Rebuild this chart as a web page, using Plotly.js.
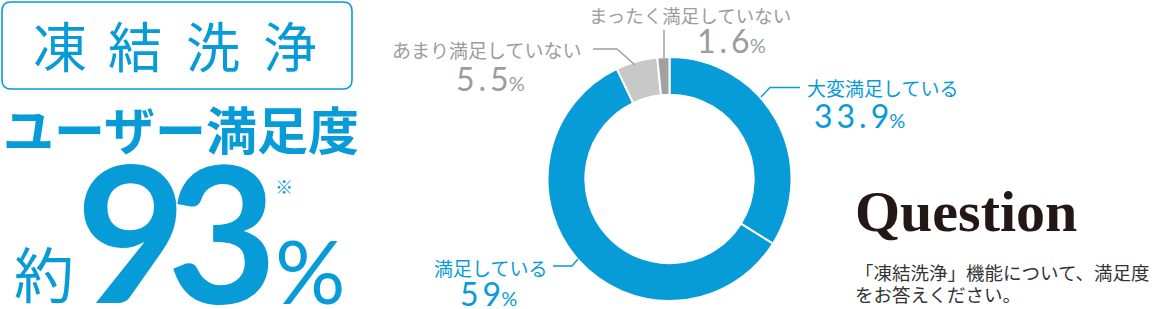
<!DOCTYPE html>
<html><head><meta charset="utf-8">
<script src="https://cdn.plot.ly/plotly-3.0.1.min.js"></script>
<style>html,body{margin:0;padding:0;background:#fff}#chart{width:1155px;height:309px}</style>
</head><body><div id="chart"></div>
<script>
// ---- data ----
const categories = ['大変満足している', '満足している', 'あまり満足していない', 'まったく満足していない'];
const values = [33.9, 59, 5.5, 1.6];
const valueLabels = ['33.9', '59', '5.5', '1.6'];
const headline = ['凍', '結', '洗', '浄'];
const subtitle = 'ユーザー満足度';
const bigNumber = ['9', '3'];
const question = 'Question';
const questionText = ['「凍結洗浄」機能について、満足度', 'をお答えください。'];

// ---- helpers ----
const W = 1155, H = 309;
const px = x => x / W, py = y => 1 - y / H;
const BLUE = '#079bd8', GRAY = '#9c9c9c';
const JP = '"Noto Sans CJK JP", "Noto Sans", sans-serif';
const NUM = 'Lato, "Noto Sans", sans-serif';

function sp(s) { return s.split('').join('\u2009'); }
function pct(v, size) {
  return sp(v) + '<span style="font-size:' + Math.round(size * 0.62) + 'px">%</span>';
}

const annotations = [];
function ann(text, x, y, opts) {
  annotations.push(Object.assign({
    text: text, x: px(x), y: py(y), xref: 'paper', yref: 'paper',
    showarrow: false, xanchor: 'center', yanchor: 'middle',
    font: { family: JP, size: 19, color: BLUE }
  }, opts || {}));
}

// headline characters
const hx = [60, 135, 213, 290];
headline.forEach((c, i) => ann(c, hx[i], 45, { font: { family: JP, size: 54, color: BLUE } }));
ann('<b>' + subtitle + '</b>', 181, 128, { font: { family: JP, size: 51, color: BLUE } });
ann('約', 44, 271, { font: { family: JP, size: 60, color: BLUE } });
ann('<b>' + bigNumber[0] + '</b>', 131, 229, { font: { family: NUM, size: 190, color: BLUE } });
ann('<b>' + bigNumber[1] + '</b>', 222, 229, { font: { family: NUM, size: 190, color: BLUE } });
ann('%', 310, 270, { font: { family: NUM, size: 88, color: BLUE } });
ann('※', 284, 186, { font: { family: JP, size: 18, color: BLUE } });

// slice labels
ann(categories[0], 805, 87, { xanchor: 'left', font: { family: JP, size: 19, color: BLUE } });
ann(pct(valueLabels[0], 32), 859, 115, { font: { family: NUM, size: 32, color: BLUE } });
ann(categories[1], 549, 267, { xanchor: 'right', font: { family: JP, size: 19, color: BLUE } });
ann(pct(valueLabels[1], 32), 489, 293, { font: { family: NUM, size: 32, color: BLUE } });
ann(categories[2], 583, 49, { xanchor: 'right', font: { family: JP, size: 19, color: GRAY } });
ann(pct(valueLabels[2], 32), 490, 79, { font: { family: NUM, size: 32, color: GRAY } });
ann(categories[3], 690, 15, { font: { family: JP, size: 18.5, color: GRAY } });
ann(pct(valueLabels[3], 32), 731, 41, { font: { family: NUM, size: 32, color: GRAY } });

// question block
ann('<b>' + question + '</b>', 966, 211, { font: { family: '"Liberation Serif", serif', size: 58, color: '#231815' } });
ann(questionText[0], 853, 272, { xanchor: 'left', font: { family: JP, size: 18.5, color: '#333333' } });
ann(questionText[1], 853, 294, { xanchor: 'left', font: { family: JP, size: 18.5, color: '#333333' } });

// shapes
function path(pts) { return 'M ' + pts.map(p => px(p[0]) + ',' + py(p[1])).join(' L '); }
function rrect(x0, y0, x1, y1, r) {
  const P = (x, y) => px(x) + ',' + py(y);
  return 'M ' + P(x0 + r, y0) + ' L ' + P(x1 - r, y0) + ' Q ' + P(x1, y0) + ' ' + P(x1, y0 + r) +
    ' L ' + P(x1, y1 - r) + ' Q ' + P(x1, y1) + ' ' + P(x1 - r, y1) +
    ' L ' + P(x0 + r, y1) + ' Q ' + P(x0, y1) + ' ' + P(x0, y1 - r) +
    ' L ' + P(x0, y0 + r) + ' Q ' + P(x0, y0) + ' ' + P(x0 + r, y0) + ' Z';
}
const shapes = [
  { type: 'path', xref: 'paper', yref: 'paper', path: rrect(2, 2, 352, 89, 9), line: { color: BLUE, width: 1.6 } },
  { type: 'path', xref: 'paper', yref: 'paper', path: path([[761, 97], [770, 87.5], [800, 87.5]]), line: { color: BLUE, width: 1.4 } },
  { type: 'path', xref: 'paper', yref: 'paper', path: path([[578, 259], [572, 266], [553, 266]]), line: { color: BLUE, width: 1.4 } },
  { type: 'path', xref: 'paper', yref: 'paper', path: path([[593, 49], [617, 49], [635, 65]]), line: { color: GRAY, width: 1.4 } },
  { type: 'path', xref: 'paper', yref: 'paper', path: path([[664, 30], [664, 58]]), line: { color: GRAY, width: 1.4 } }
];

const cx = 669.5, cy = 179, R = 122;
const trace = {
  type: 'pie', labels: categories, values: values, sort: false, direction: 'clockwise', rotation: 0,
  hole: 0.69, textinfo: 'none', hoverinfo: 'skip', showlegend: false,
  marker: { colors: [BLUE, BLUE, '#c8c8c8', '#a0a0a0'], line: { color: '#ffffff', width: 2 } },
  domain: { x: [px(cx - R), px(cx + R)], y: [py(cy + R), py(cy - R)] }
};

Plotly.newPlot('chart', [trace], {
  width: W, height: H, margin: { l: 0, r: 0, t: 0, b: 0 },
  paper_bgcolor: '#fff', plot_bgcolor: '#fff',
  annotations: annotations, shapes: shapes
}, { staticPlot: true });
</script></body></html>
